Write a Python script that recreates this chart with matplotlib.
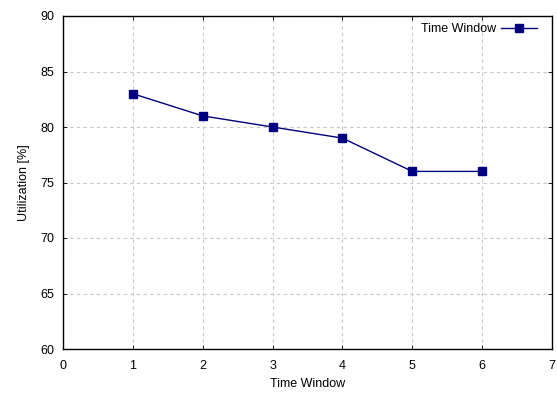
import matplotlib
matplotlib.use("Agg")
import matplotlib.pyplot as plt

# данные
x_vals = [1, 2, 3, 4, 5, 6]
utilization = [83, 81, 80, 79, 76, 76]

plt.rcParams['font.family'] = ['Liberation Sans', 'DejaVu Sans']
plt.rcParams['font.size'] = 9

fig = plt.figure(figsize=(5.57, 3.96), dpi=100)
ax = fig.add_axes([63 / 557, 1 - 349 / 396, (552 - 63) / 557, (349 - 16) / 396])

ax.plot(x_vals, utilization, color='#000080', linewidth=1, marker='s',
        markersize=6, label='Time Window')

ax.set_xlim(0, 7)
ax.set_ylim(60, 90)
ax.set_xticks(range(0, 8))
ax.set_yticks(range(60, 91, 5))

ax.grid(True, color='#c8c8c8', linestyle=(0, (3, 3)), linewidth=0.8)
ax.tick_params(direction='in', length=3, width=0.6, top=True, right=True, pad=8)
ax.tick_params(axis='y', pad=6)
for s in ax.spines.values():
    s.set_linewidth(1)

ax.set_xlabel('Time Window', labelpad=4)
ax.set_ylabel('Utilization [%]', labelpad=8)

ax.legend(loc='upper right', markerfirst=False, frameon=False,
          handlelength=2.9, handletextpad=0.4, borderaxespad=0.2,
          bbox_to_anchor=(0.985, 1.0))

fig.savefig('out.png', dpi=100)
